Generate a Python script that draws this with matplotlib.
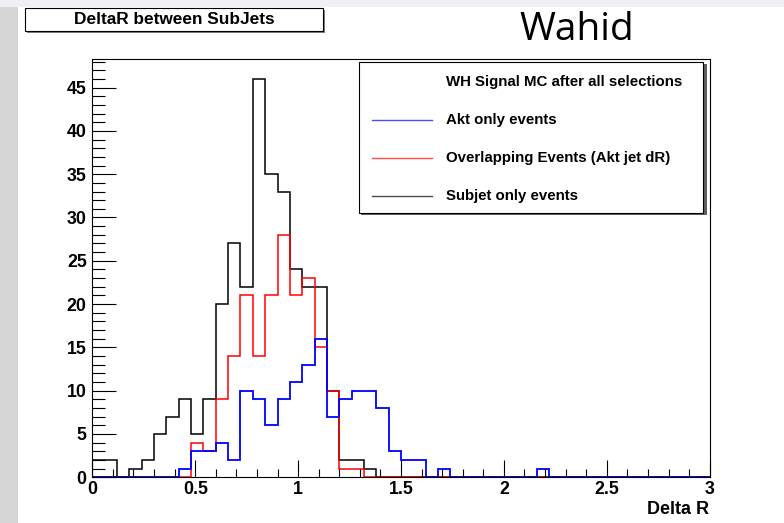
import numpy as np
import matplotlib
matplotlib.use('Agg')
import matplotlib.pyplot as plt
from matplotlib.patches import Rectangle
from matplotlib.lines import Line2D
from matplotlib.ticker import MultipleLocator

# Delta R histograms, 50 bins of 0.06 from 0 to 3
bin_edges = np.linspace(0, 3, 51)
subjet_only = [2, 2, 0, 1, 2, 5, 7, 9, 5, 9, 20, 27, 22, 46, 35, 33, 24, 22, 22, 10,
               2, 2, 1] + [0] * 27
overlapping = [0, 0, 0, 0, 0, 0, 0, 0, 4, 3, 9, 14, 21, 14, 21, 28, 21, 23, 15, 10,
               1, 1] + [0] * 28
akt_only = [0, 0, 0, 0, 0, 0, 0, 1, 3, 3, 4, 2, 10, 9, 6, 9, 11, 13, 16, 7,
            9, 10, 10, 8, 3, 2, 2, 0, 1, 0, 0, 0, 0, 0, 0, 0, 1] + [0] * 13

legend_header = 'WH Signal MC after all selections'
legend_labels = ['Akt only events', 'Overlapping Events (Akt jet dR)', 'Subjet only events']
legend_colors = ['#0000ff', '#ff0000', '#000000']

W, H = 784, 523
font = 'Liberation Sans'


def fx(x):
    return x / W


def fy(y):
    return 1 - y / H


fig = plt.figure(figsize=(W / 100, H / 100), dpi=100, facecolor='white')

# slide background bits around the canvas
fig.patches.append(Rectangle((0, 0), fx(18), 1, transform=fig.transFigure,
                             facecolor='#d6d6d6', edgecolor='none', zorder=0))
fig.patches.append(Rectangle((0, fy(7)), 1, 7 / H, transform=fig.transFigure,
                             facecolor='#eef0f4', edgecolor='none', zorder=0))

ax = fig.add_axes([fx(92.3), fy(477.3), fx(709.7) - fx(92.3), fy(59) - fy(477.3)])
ax.set_facecolor('white')

ax.stairs(subjet_only, bin_edges, color='black', lw=1.1)
ax.stairs(overlapping, bin_edges, color='#ff0000', lw=1.1)
ax.stairs(akt_only, bin_edges, color='#0000ff', lw=1.3)

ax.set_xlim(0, 3)
ax.set_ylim(0, 1.05 * max(subjet_only))
for s in ax.spines.values():
    s.set_linewidth(0.8)

ax.xaxis.set_major_locator(MultipleLocator(0.5))
ax.xaxis.set_minor_locator(MultipleLocator(0.1))
ax.yaxis.set_major_locator(MultipleLocator(5))
ax.yaxis.set_minor_locator(MultipleLocator(1))
ax.tick_params(which='both', direction='in', top=False, right=False, width=0.8)
ax.tick_params(axis='x', which='major', length=12, pad=3)
ax.tick_params(axis='x', which='minor', length=6)
ax.tick_params(axis='y', which='major', length=17, pad=4)
ax.tick_params(axis='y', which='minor', length=9)
ax.set_xticks(np.arange(0, 3.01, 0.5))
ax.set_xticklabels(['0', '0.5', '1', '1.5', '2', '2.5', '3'])
for lab in ax.get_xticklabels() + ax.get_yticklabels():
    lab.set_fontfamily(font)
    lab.set_fontweight('bold')
    lab.set_fontsize(12.8)

fig.text(fx(709), fy(510), 'Delta R', ha='right', va='center',
         family=font, weight='bold', fontsize=13)

# title box
fig.patches.append(Rectangle((fx(27), fy(33)), fx(323) - fx(25), fy(8) - fy(31),
                             transform=fig.transFigure, facecolor='#808080',
                             edgecolor='none', zorder=2))
fig.patches.append(Rectangle((fx(25), fy(31)), fx(323) - fx(25), fy(8) - fy(31),
                             transform=fig.transFigure, facecolor='white',
                             edgecolor='black', lw=0.8, zorder=3))
fig.text(fx(174), fy(19.5), 'DeltaR between SubJets', ha='center', va='center',
         family=font, weight='bold', fontsize=12.4, zorder=4)

fig.text(fx(577), fy(30), 'Wahid', ha='center', va='center',
         family='Open Sans', fontsize=28)

# legend box
fig.patches.append(Rectangle((fx(361), fy(215)), fx(705) - fx(359), fy(62) - fy(213),
                             transform=fig.transFigure, facecolor='#606060',
                             edgecolor='none', zorder=2))
fig.patches.append(Rectangle((fx(359), fy(213)), fx(703) - fx(359), fy(62) - fy(213),
                             transform=fig.transFigure, facecolor='white',
                             edgecolor='black', lw=0.8, zorder=3))
fig.text(fx(446.5), fy(82), legend_header, ha='left', va='center',
         family=font, weight='bold', fontsize=10.8, zorder=4)
for i, (lab, col) in enumerate(zip(legend_labels, legend_colors)):
    y = 120 + i * 37.8
    fig.lines.append(Line2D([fx(372), fx(432)], [fy(y), fy(y)], transform=fig.transFigure,
                            color=col, lw=1.0, alpha=0.7, zorder=4))
    fig.text(fx(446.5), fy(y), lab, ha='left', va='center',
             family=font, weight='bold', fontsize=10.8, zorder=4)

plt.savefig('out.png', dpi=100, facecolor=fig.get_facecolor())
